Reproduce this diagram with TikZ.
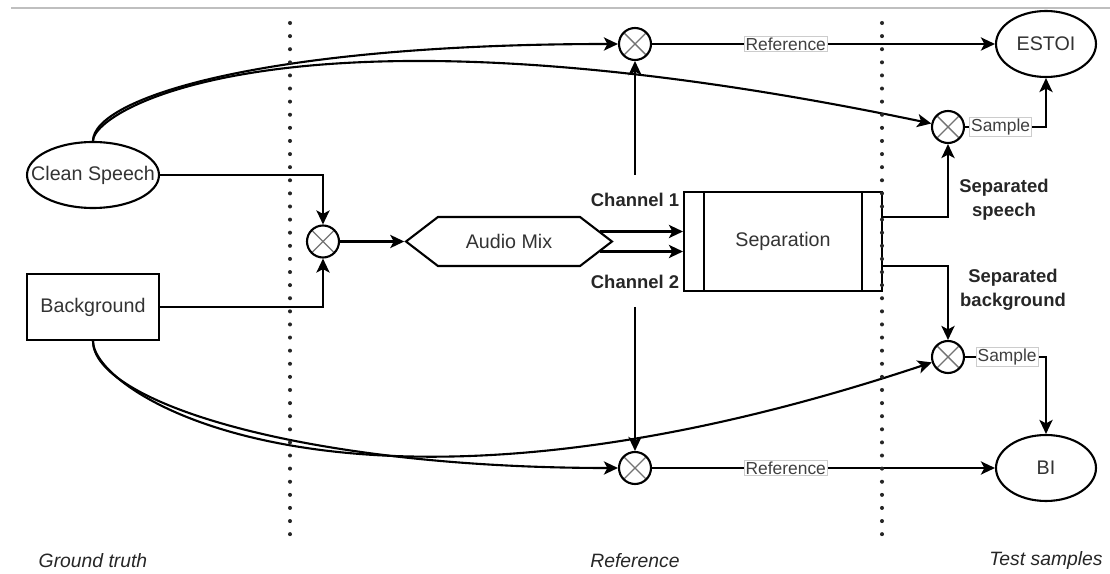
\documentclass[tikz,border=0pt]{standalone}
\usepackage{fontspec}
\setmainfont{Liberation Sans}
\usetikzlibrary{shapes.geometric,shapes.symbols,arrows.meta,calc}

\begin{document}
\begin{tikzpicture}[x=0.02cm,y=-0.02cm]
	\tikzstyle{conn}=[draw, line width=1.2pt, -{Stealth[length=8pt,width=7.5pt,inset=2pt]}]
	\tikzstyle{box}=[draw, line width=1.2pt, fill=white, text=black!80, font=\fontsize{11.2}{13}\selectfont]
	\tikzstyle{oval}=[box, ellipse, minimum width=2cm, minimum height=1.32cm, inner sep=0pt]
	\tikzstyle{hexa}=[box, signal, signal to=east and west, signal pointer angle=75, minimum width=4.12cm, minimum height=0.98cm]
	\tikzstyle{process}=[box, rectangle, minimum width=3.96cm, minimum height=1.98cm, path picture={
		\draw[line width=1.2pt] ([xshift=0.4cm]path picture bounding box.north west) -- ([xshift=0.4cm]path picture bounding box.south west)
			([xshift=-0.4cm]path picture bounding box.north east) -- ([xshift=-0.4cm]path picture bounding box.south east);}]
	\tikzstyle{mixer}=[circle, draw, line width=1.2pt, fill=white, minimum size=0.64cm, inner sep=0pt, path picture={
		\draw[black!55, line width=0.8pt] (path picture bounding box.south west) -- (path picture bounding box.north east)
			(path picture bounding box.north west) -- (path picture bounding box.south east);}]
	\tikzstyle{lbl}=[draw=black!20, line width=0.6pt, fill=white, text=black!75, inner sep=0.8pt, font=\fontsize{9.9}{11}\selectfont]
	\tikzstyle{tag}=[text=black!85, align=center, font=\bfseries\fontsize{10.5}{13.7}\selectfont]
	\tikzstyle{zone}=[text=black!85, font=\itshape\fontsize{11}{13}\selectfont]
	\tikzstyle{divider}=[black!85, line width=2.3pt, line cap=round, dash pattern=on 0pt off 7.46pt]

	\useasboundingbox (0,0) rectangle (1110,574);
	\draw[black!25, line width=0.6pt] (11,8) -- (1110,8);

	\begin{scope}
		\node [oval, minimum width=2.64cm, inner xsep=-9pt] (cs) at (93,175) {Clean Speech};
		\node [box, minimum width=2.64cm, minimum height=1.32cm] (bg) at (93,307) {Background};
		\node [mixer] (mix1) at (323,241.5) {};
		\node [hexa] (mix) at (509,241.5) {Audio Mix};
		\node [process] (sep) at (783,241.5) {Separation};
		\node [tag] (ch1) at (635,200) {Channel 1};
		\node [tag] (ch2) at (635,282) {Channel 2};
		\node [mixer] (mixT) at (635,44) {};
		\node [mixer] (mixB) at (635,468) {};
		\node [mixer] (mixS1) at (948,127) {};
		\node [mixer] (mixS2) at (948,357) {};
		\node [oval] (estoi) at (1046,44) {ESTOI};
		\node [oval] (bi) at (1046,468) {BI};
		\node [tag] (sepsp) at (1004,200) {Separated\\speech};
		\node [tag] (sepbg) at (1013,290) {Separated\\background};
		\node [zone] (gt) at (93,561) {Ground truth};
		\node [zone] (rf) at (635,561) {Reference};
		\node [zone] (ts) at (1046,561) {Test samples};

		% mixing
		\draw[conn] (cs) -| (mix1);
		\draw[conn] (bg) -| (mix1);
		\path[conn] (mix1) edge (mix.west);
		\draw[conn] ($(mix.east)+(-14,-10)$) -- ($(sep.west)+(0,-10)$);
		\draw[conn] ($(mix.east)+(-14,10)$) -- ($(sep.west)+(0,10)$);

		% references
		\draw[conn] ($(ch1)+(0,-25)$) -- (mixT);
		\draw[conn] ($(ch2)+(0,25)$) -- (mixB);
		\draw[conn] (cs.north) .. controls +(0,-42) and +(-359,0) .. (mixT.west);
		\draw[conn] (bg.south) .. controls +(0,60) and +(-319,0) .. (mixB.west);
		\draw[conn] (mixT) -- node[lbl, pos=0.39] {Reference} (estoi);
		\draw[conn] (mixB) -- node[lbl, pos=0.39] {Reference} (bi);

		% samples
		\draw[conn] ($(sep.east)+(0,-24.5)$) -| (mixS1);
		\draw[conn] ($(sep.east)+(0,24.5)$) -| (mixS2);
		\draw[conn] (cs.north) .. controls +(0,-32) and +(-656,-137) .. (mixS1);
		\draw[conn] (bg.south) .. controls +(0,55) and +(-600,200) .. (mixS2);
		\draw[conn] (mixS1) -| node[lbl, pos=0.22] {Sample} (estoi);
		\draw[conn] (mixS2) -| node[lbl, pos=0.26] {Sample} (bi);
	\end{scope}

	\draw[divider] (290,23) -- (290,536);
	\draw[divider] (882,23) -- (882,536);
\end{tikzpicture}
\end{document}
